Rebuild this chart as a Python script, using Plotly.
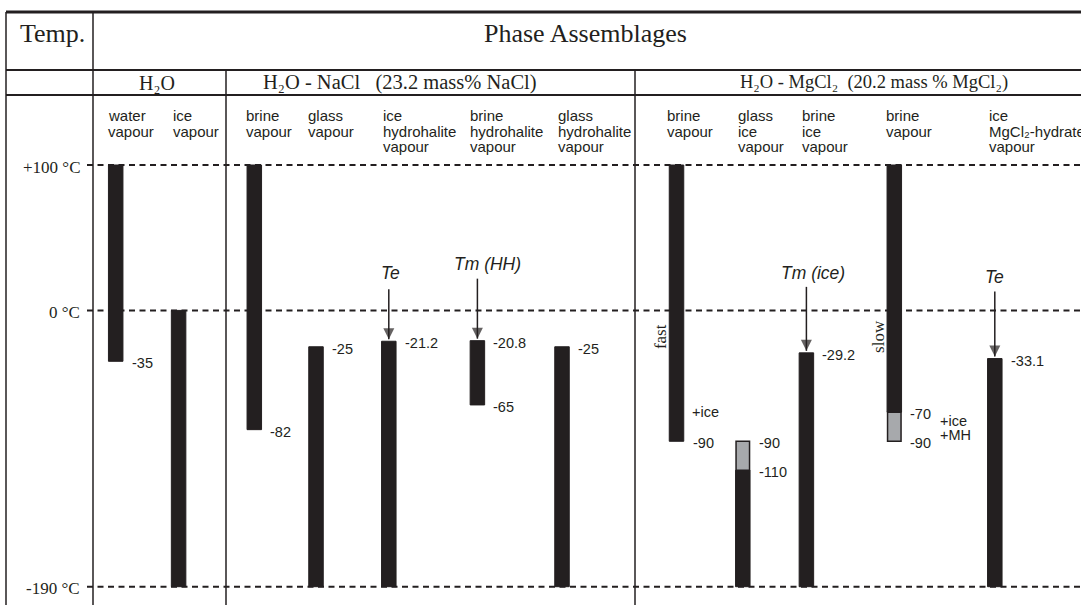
import plotly.graph_objects as go

# ---------------- data ----------------
temp_ticks = [100, 0, -190]
temp_tick_labels = ["+100 °C", "0 °C", "-190 °C"]

systems = [
    "H₂O",
    "H₂O - NaCl&nbsp;&nbsp; (23.2 mass% NaCl)",
    "H₂O - MgCl₂&nbsp; (20.2 mass % MgCl₂)",
]

assemblages = [
    ["water", "vapour"],
    ["ice", "vapour"],
    ["brine", "vapour"],
    ["glass", "vapour"],
    ["ice", "hydrohalite", "vapour"],
    ["brine", "hydrohalite", "vapour"],
    ["glass", "hydrohalite", "vapour"],
    ["brine", "vapour"],
    ["glass", "ice", "vapour"],
    ["brine", "ice", "vapour"],
    ["brine", "vapour"],
    ["ice", "MgCl₂-hydrate", "vapour"],
]

# temperature interval in which each assemblage is observed (°C)
stable_top = [100, 0, 100, -25, -21.2, -20.8, -25, 100, -110, -29.2, 100, -33.1]
stable_bottom = [-35, -190, -82, -190, -190, -65, -190, -90, -190, -190, -70, -190]

# intervals with partial crystallisation (grey)
partial_cols = [8, 10]
partial_top = [-90, -70]
partial_bottom = [-110, -90]

# characteristic temperatures pointed at by arrows
events = ["Te", "Tm (HH)", "Tm (ice)", "Te"]
event_cols = [4, 5, 9, 11]

# extra notes beside bars
note_text = ["+ice", "+ice", "+MH"]
note_cols = [7, 10, 10]
note_temp = [-70, -76, -86]

# cooling-rate labels
rate_text = ["fast", "slow"]
rate_cols = [7, 10]

# ---------------- layout helpers ----------------
W, H = 1081, 605
INK = "#231f20"
GREY = "#a7a9ac"
SANS = "Liberation Sans, Arial, Helvetica, sans-serif"
SERIF = "Liberation Serif, Times New Roman, serif"

col_x = [115.7, 178.6, 254.3, 316, 388.8, 477.4, 562, 676.5, 742.8, 806.4, 894.3, 994.8]
label_x = [106, 171, 244, 306, 381, 468, 556, 665, 736, 800, 884, 987]
system_x = [156.7, 399.5, 874]
system_size = [20, 20.5, 18.5]
bar_w = 14.5

# vertical mapping: +100 °C at 165 px, -190 °C at 586.7 px
px100, px190 = 165.0, 586.7
k = (px190 - px100) / 290.0
y_top = 100 + px100 / k
y_bot = -190 - (H - px190) / k


def py(p):
    """pixel row -> paper coordinate"""
    return 1 - p / H


fig = go.Figure()

# black bars
fig.add_trace(go.Bar(
    x=col_x,
    y=[t - b for t, b in zip(stable_top, stable_bottom)],
    base=stable_bottom,
    width=bar_w,
    marker=dict(color=INK, line=dict(color=INK, width=1)),
    textposition="none",
    hoverinfo="skip",
))
# grey bars
fig.add_trace(go.Bar(
    x=[col_x[c] for c in partial_cols],
    y=[t - b for t, b in zip(partial_top, partial_bottom)],
    base=partial_bottom,
    width=bar_w - 1,
    marker=dict(color=GREY, line=dict(color=INK, width=1.5)),
    textposition="none",
    hoverinfo="skip",
))

# arrows pointing at characteristic temperatures
arrow_len = [52, 62, 66, 67]
for c, L in zip(event_cols, arrow_len):
    top = stable_top[c]
    fig.add_trace(go.Scatter(
        x=[col_x[c], col_x[c]],
        y=[top + L / k, top + 2 / k],
        mode="lines+markers",
        line=dict(color=INK, width=1.5),
        marker=dict(symbol=["circle", "arrow-down"], size=[0, 11], color=INK,
                    line=dict(width=0)),
        hoverinfo="skip",
    ))

shapes = []
# table frame
frame = [
    (6, 1081, 12, 12, 3),
    (6, 1081, 70, 70, 2),
    (6, 1081, 95, 95, 2),
    (6, 6, 12, H, 1.5),
    (93, 93, 12, H, 1.5),
    (226, 226, 70, H, 1.5),
    (635, 635, 70, H, 1.5),
]
for x0, x1, y0, y1, w in frame:
    shapes.append(dict(type="line", xref="x", yref="paper", x0=x0, x1=x1,
                       y0=py(y0), y1=py(y1), line=dict(color=INK, width=w),
                       layer="below"))
# dashed reference temperatures
for t in temp_ticks:
    shapes.append(dict(type="line", xref="x", yref="y", x0=87, x1=W, y0=t, y1=t,
                       line=dict(color=INK, width=2, dash="6px,4.5px"), layer="below"))

ann = []
# header row
ann.append(dict(text="Temp.", x=52.5, y=py(33), xref="x", yref="paper",
                xanchor="center", yanchor="middle", showarrow=False,
                font=dict(family=SERIF, size=26, color=INK)))
ann.append(dict(text="Phase Assemblages", x=585, y=py(33), xref="x", yref="paper",
                xanchor="center", yanchor="middle", showarrow=False,
                font=dict(family=SERIF, size=26, color=INK)))
for s, sx, fs in zip(systems, system_x, system_size):
    ann.append(dict(text=s, x=sx, y=py(83), xref="x", yref="paper",
                    xanchor="center", yanchor="middle", showarrow=False,
                    font=dict(family=SERIF, size=fs, color=INK)))

# assemblage names, one line each
for lines, lx in zip(assemblages, label_x):
    for i, ln in enumerate(lines):
        ann.append(dict(text=ln, x=lx, y=py(116 + 15 * i), xref="x", yref="paper",
                        xanchor="left", yanchor="middle", showarrow=False,
                        font=dict(family=SANS, size=15, color=INK)))

# temperature labels
for t, lab in zip(temp_ticks, temp_tick_labels):
    ann.append(dict(text=lab, x=82, y=t, xref="x", yref="y", xanchor="right",
                    yanchor="middle", yshift=-2, showarrow=False,
                    font=dict(family=SERIF, size=17, color=INK)))

# value labels at the ends of every interval
for c in range(len(col_x)):
    vals = []
    if stable_top[c] not in (100, 0):
        vals.append(stable_top[c])
    if stable_bottom[c] != -190:
        vals.append(stable_bottom[c])
    for pc, pt, pb in zip(partial_cols, partial_top, partial_bottom):
        if pc == c:
            vals += [pt, pb]
    for v in dict.fromkeys(vals):
        ann.append(dict(text=f"{v:g}", x=col_x[c] + 14, y=v, xref="x", yref="y",
                        xanchor="left", yanchor="middle", yshift=-2, showarrow=False,
                        font=dict(family=SANS, size=14.5, color=INK)))

# notes
for txt, c, t in zip(note_text, note_cols, note_temp):
    dx = 13 if c == 7 else 44
    ann.append(dict(text=txt, x=col_x[c] + dx, y=t, xref="x", yref="y",
                    xanchor="left", yanchor="middle", showarrow=False,
                    font=dict(family=SANS, size=14.5, color=INK)))

# cooling-rate labels (rotated)
for txt, c in zip(rate_text, rate_cols):
    ann.append(dict(text=txt, x=col_x[c] - 16, y=-18, xref="x", yref="y",
                    xanchor="center", yanchor="middle", textangle=-90,
                    showarrow=False, font=dict(family=SERIF, size=17, color=INK)))

# arrow labels
text_lift = [68, 77, 80, 82]
text_dx = [2, 10, 7, 0]
for name, c, lift, dx in zip(events, event_cols, text_lift, text_dx):
    ann.append(dict(text=name, x=col_x[c] + dx, y=stable_top[c], xref="x", yref="y",
                    xanchor="center", yanchor="middle", yshift=lift, showarrow=False,
                    font=dict(family=SANS, size=17.5, color=INK, style="italic")))

fig.update_layout(
    width=W, height=H,
    margin=dict(l=0, r=0, t=0, b=0),
    paper_bgcolor="white", plot_bgcolor="white",
    showlegend=False, barmode="overlay",
    xaxis=dict(range=[0, W], visible=False, fixedrange=True),
    yaxis=dict(range=[y_bot, y_top], visible=False, fixedrange=True),
    shapes=shapes, annotations=ann,
)

fig.write_html("out.html", config={"displayModeBar": False})
